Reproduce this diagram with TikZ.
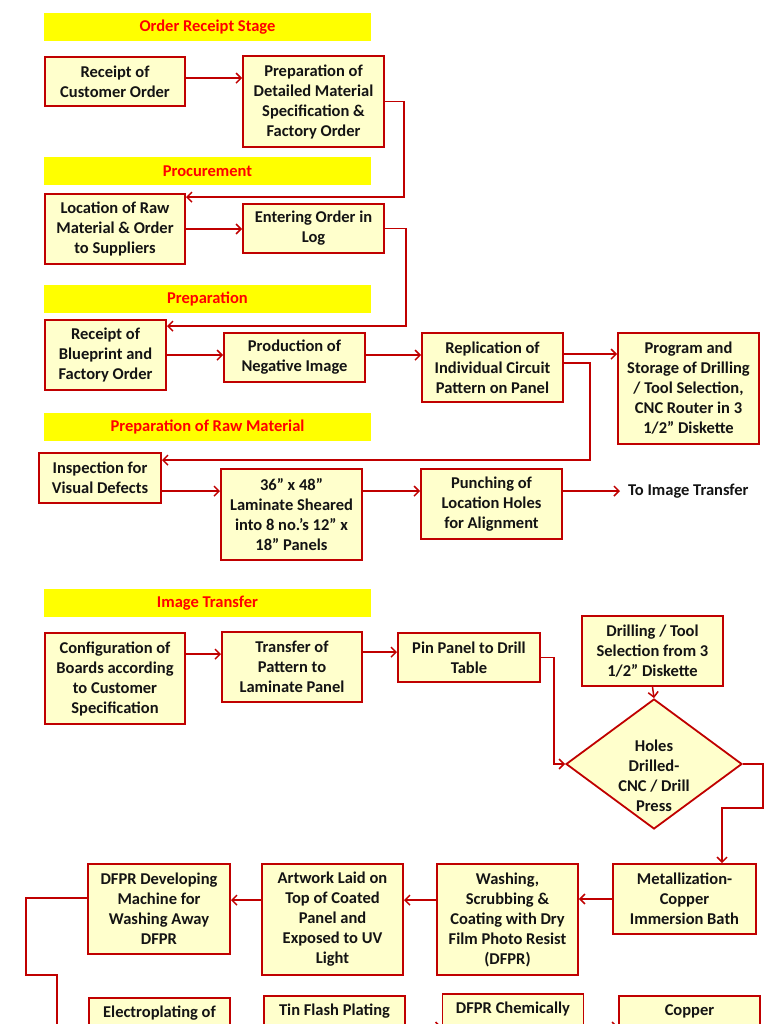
\documentclass[tikz,border=0pt]{standalone}
\usepackage{fontspec}
\setmainfont{Carlito}
\usetikzlibrary{arrows.meta,shapes.geometric,calc}
\definecolor{boxfill}{RGB}{255,255,204}
\definecolor{boxline}{RGB}{192,0,0}
\definecolor{arrowred}{RGB}{192,0,0}
\definecolor{bannerfill}{RGB}{255,255,0}
\definecolor{bannertext}{RGB}{255,0,0}
\definecolor{txt}{RGB}{20,20,20}
\tikzset{
  box/.style={draw=boxline, line width=1.8pt, fill=boxfill, align=center, inner sep=0pt,
    text=txt, font=\bfseries\fontsize{16.5}{20}\selectfont},
  banner/.style={fill=bannerfill, minimum width=327pt, minimum height=28pt, inner sep=0pt,
    text=bannertext, font=\bfseries\fontsize{16.5}{20}\selectfont},
  plaintext/.style={align=center, inner sep=0pt, text=txt, font=\bfseries\fontsize{16.5}{20}\selectfont},
  conn/.style={draw=arrowred, line width=1.5pt},
  arr/.style={conn, -{Straight Barb[length=5pt,width=10pt,line width=1.5pt]}},
  bottombox/.style={box, anchor=north, minimum width=141pt, text height=12pt, text depth=70pt, inner ysep=8pt}
}
\begin{document}
\begin{tikzpicture}[x=1pt,y=-1pt]
\fill[white] (0,0) rectangle (768,1024);
\useasboundingbox (0,0) rectangle (768,1024);
\clip (0,0) rectangle (768,1024);

% banners
\node[banner] (ors) at (207.5,27) {Order Receipt Stage};
\node[banner] (prc) at (207.5,171.5) {Procurement};
\node[banner] (prp) at (207.5,299) {Preparation};
\node[banner] (prm) at (207.5,427) {Preparation of Raw Material};
\node[banner] (imt) at (207.5,603) {Image Transfer};

% boxes
\node[box, minimum width=140pt, minimum height=49pt] (rco) at (115,81.5) {Receipt of\\Customer Order};
\node[box, minimum width=141pt, minimum height=91pt] (pdm) at (313.5,101.5) {Preparation of\\Detailed Material\\Specification \&\\Factory Order};
\node[box, minimum width=140pt, minimum height=70pt] (loc) at (115,229) {Location of Raw\\Material \& Order\\to Suppliers};
\node[box, minimum width=141pt, minimum height=49pt] (ent) at (313.5,228.5) {Entering Order in\\Log};
\node[box, minimum width=121pt, minimum height=70pt] (rbp) at (105.5,355) {Receipt of\\Blueprint and\\Factory Order};
\node[box, minimum width=141pt, minimum height=49pt] (pni) at (294.5,357.5) {Production of\\Negative Image};
\node[box, minimum width=141pt, minimum height=69pt] (rep) at (492.5,367.5) {Replication of\\Individual Circuit\\Pattern on Panel};
\node[box, minimum width=141pt, minimum height=111pt] (pro) at (688.5,388.5) {Program and\\Storage of Drilling\\/ Tool Selection,\\CNC Router in 3\\1/2” Diskette};
\node[box, minimum width=122pt, minimum height=50pt] (ins) at (100,478) {Inspection for\\Visual Defects};
\node[box, minimum width=141pt, minimum height=91pt] (lam) at (291.5,514.5) {36” x 48”\\Laminate Sheared\\into 8 no.’s 12” x\\18” Panels};
\node[box, minimum width=141pt, minimum height=70pt] (pun) at (491.5,504) {Punching of\\Location Holes\\for Alignment};
\node[plaintext, anchor=west, inner xsep=8pt] (tit) at (620,491) {To Image Transfer};

\node[box, minimum width=140pt, minimum height=91pt] (cfg) at (115,678.5) {Configuration of\\Boards according\\to Customer\\Specification};
\node[box, minimum width=140pt, minimum height=70pt] (tpl) at (292,667) {Transfer of\\Pattern to\\Laminate Panel};
\node[box, minimum width=142pt, minimum height=49pt] (pin) at (469,657.5) {Pin Panel to Drill\\Table};
\node[box, minimum width=141pt, minimum height=70pt] (drl) at (652.5,651) {Drilling / Tool\\Selection from 3\\1/2” Diskette};
\node[diamond, draw=boxline, line width=1.8pt, fill=boxfill, inner sep=0pt, aspect=1.35,
      minimum width=176pt, minimum height=130pt] (dia) at (654,764) {};
\node[plaintext] (diatxt) at (654,776) {Holes\\Drilled-\\CNC / Drill\\Press};

\node[box, minimum width=143pt, minimum height=70pt] (met) at (684.5,899) {Metallization-\\Copper\\Immersion Bath};
\node[box, minimum width=141pt, minimum height=111pt] (was) at (507.5,919.5) {Washing,\\Scrubbing \&\\Coating with Dry\\Film Photo Resist\\(DFPR)};
\node[box, minimum width=141pt, minimum height=111pt] (art) at (332.5,919.5) {Artwork Laid on\\Top of Coated\\Panel and\\Exposed to UV\\Light};
\node[box, minimum width=142pt, minimum height=90pt] (dev) at (159,909) {DFPR Developing\\Machine for\\Washing Away\\DFPR};

\node[bottombox] (ele) at (159.5,997) {Electroplating of};
\node[bottombox] (tin) at (334.5,995) {Tin Flash Plating};
\node[bottombox] (dch) at (513,993) {DFPR Chemically};
\node[bottombox] (cop) at (689.5,995) {Copper};

% connectors
\coordinate (a1) at ([yshift=-22pt]rco.north east);
\draw[arr] (a1) -- (a1 -| pdm.west);
\coordinate (b2) at ([yshift=-4pt]loc.north east);
\draw[arr] (pdm.east) -- ++(19,0) |- (b2);
\draw[arr] (loc.east) -- (loc.east -| ent.west);
\coordinate (d2) at ([yshift=-7pt]rbp.north east);
\draw[arr] (ent.east) -- ++(21,0) |- (d2);
\coordinate (e1) at ([yshift=-36pt]rbp.north east);
\draw[arr] (e1) -- (e1 -| pni.west);
\coordinate (f1) at ([yshift=-23pt]pni.north east);
\draw[arr] (f1) -- (f1 -| rep.west);
\coordinate (g1) at ([yshift=-22pt]rep.north east);
\draw[arr] (g1) -- (g1 -| pro.west);
\coordinate (h1) at ([yshift=-31pt]rep.north east);
\coordinate (h2) at ([yshift=-8pt]ins.north east);
\draw[arr] (h1) -- ++(26,0) |- (h2);
\coordinate (i1) at ([yshift=-39pt]ins.north east);
\draw[arr] (i1) -- (i1 -| lam.west);
\coordinate (j1) at ([yshift=-23pt]lam.north east);
\draw[arr] (j1) -- (j1 -| pun.west);
\coordinate (k1) at ([yshift=-23pt]pun.north east);
\draw[arr] (k1) -- (k1 -| tit.west);

\coordinate (l1) at ([yshift=-22pt]cfg.north east);
\draw[arr] (l1) -- (l1 -| tpl.west);
\coordinate (m1) at ([yshift=-21pt]tpl.north east);
\draw[arr] (m1) -- (m1 -| pin.west);
\draw[arr] (pin.east) -- ++(13,0) |- (dia.west);
\draw[arr] (drl.south) -- (dia.north);
\coordinate (p2) at ([xshift=37.5pt]met.north);
\draw[arr] (dia.east) -- ++(20,0) -- ++(0,44) -| (p2);
\draw[arr] (met.west) -- (met.west -| was.east);
\coordinate (r1) at ([yshift=-37pt]was.north west);
\draw[arr] (r1) -- (r1 -| art.east);
\coordinate (s1) at ([yshift=-37pt]art.north west);
\draw[arr] (s1) -- (s1 -| dev.east);
\coordinate (t1) at ([yshift=-35pt]dev.north west);
\coordinate (tend) at (57,1040);
\draw[conn] (t1) -| (26,975) -- (57,975) -- (tend);
\coordinate (u1) at ([yshift=-32pt]tin.north east);
\draw[arr] (u1) -- (u1 -| dch.west);
\coordinate (v1) at ([yshift=-34pt]dch.north east);
\draw[arr] (v1) -- (v1 -| cop.west);
\end{tikzpicture}
\end{document}
